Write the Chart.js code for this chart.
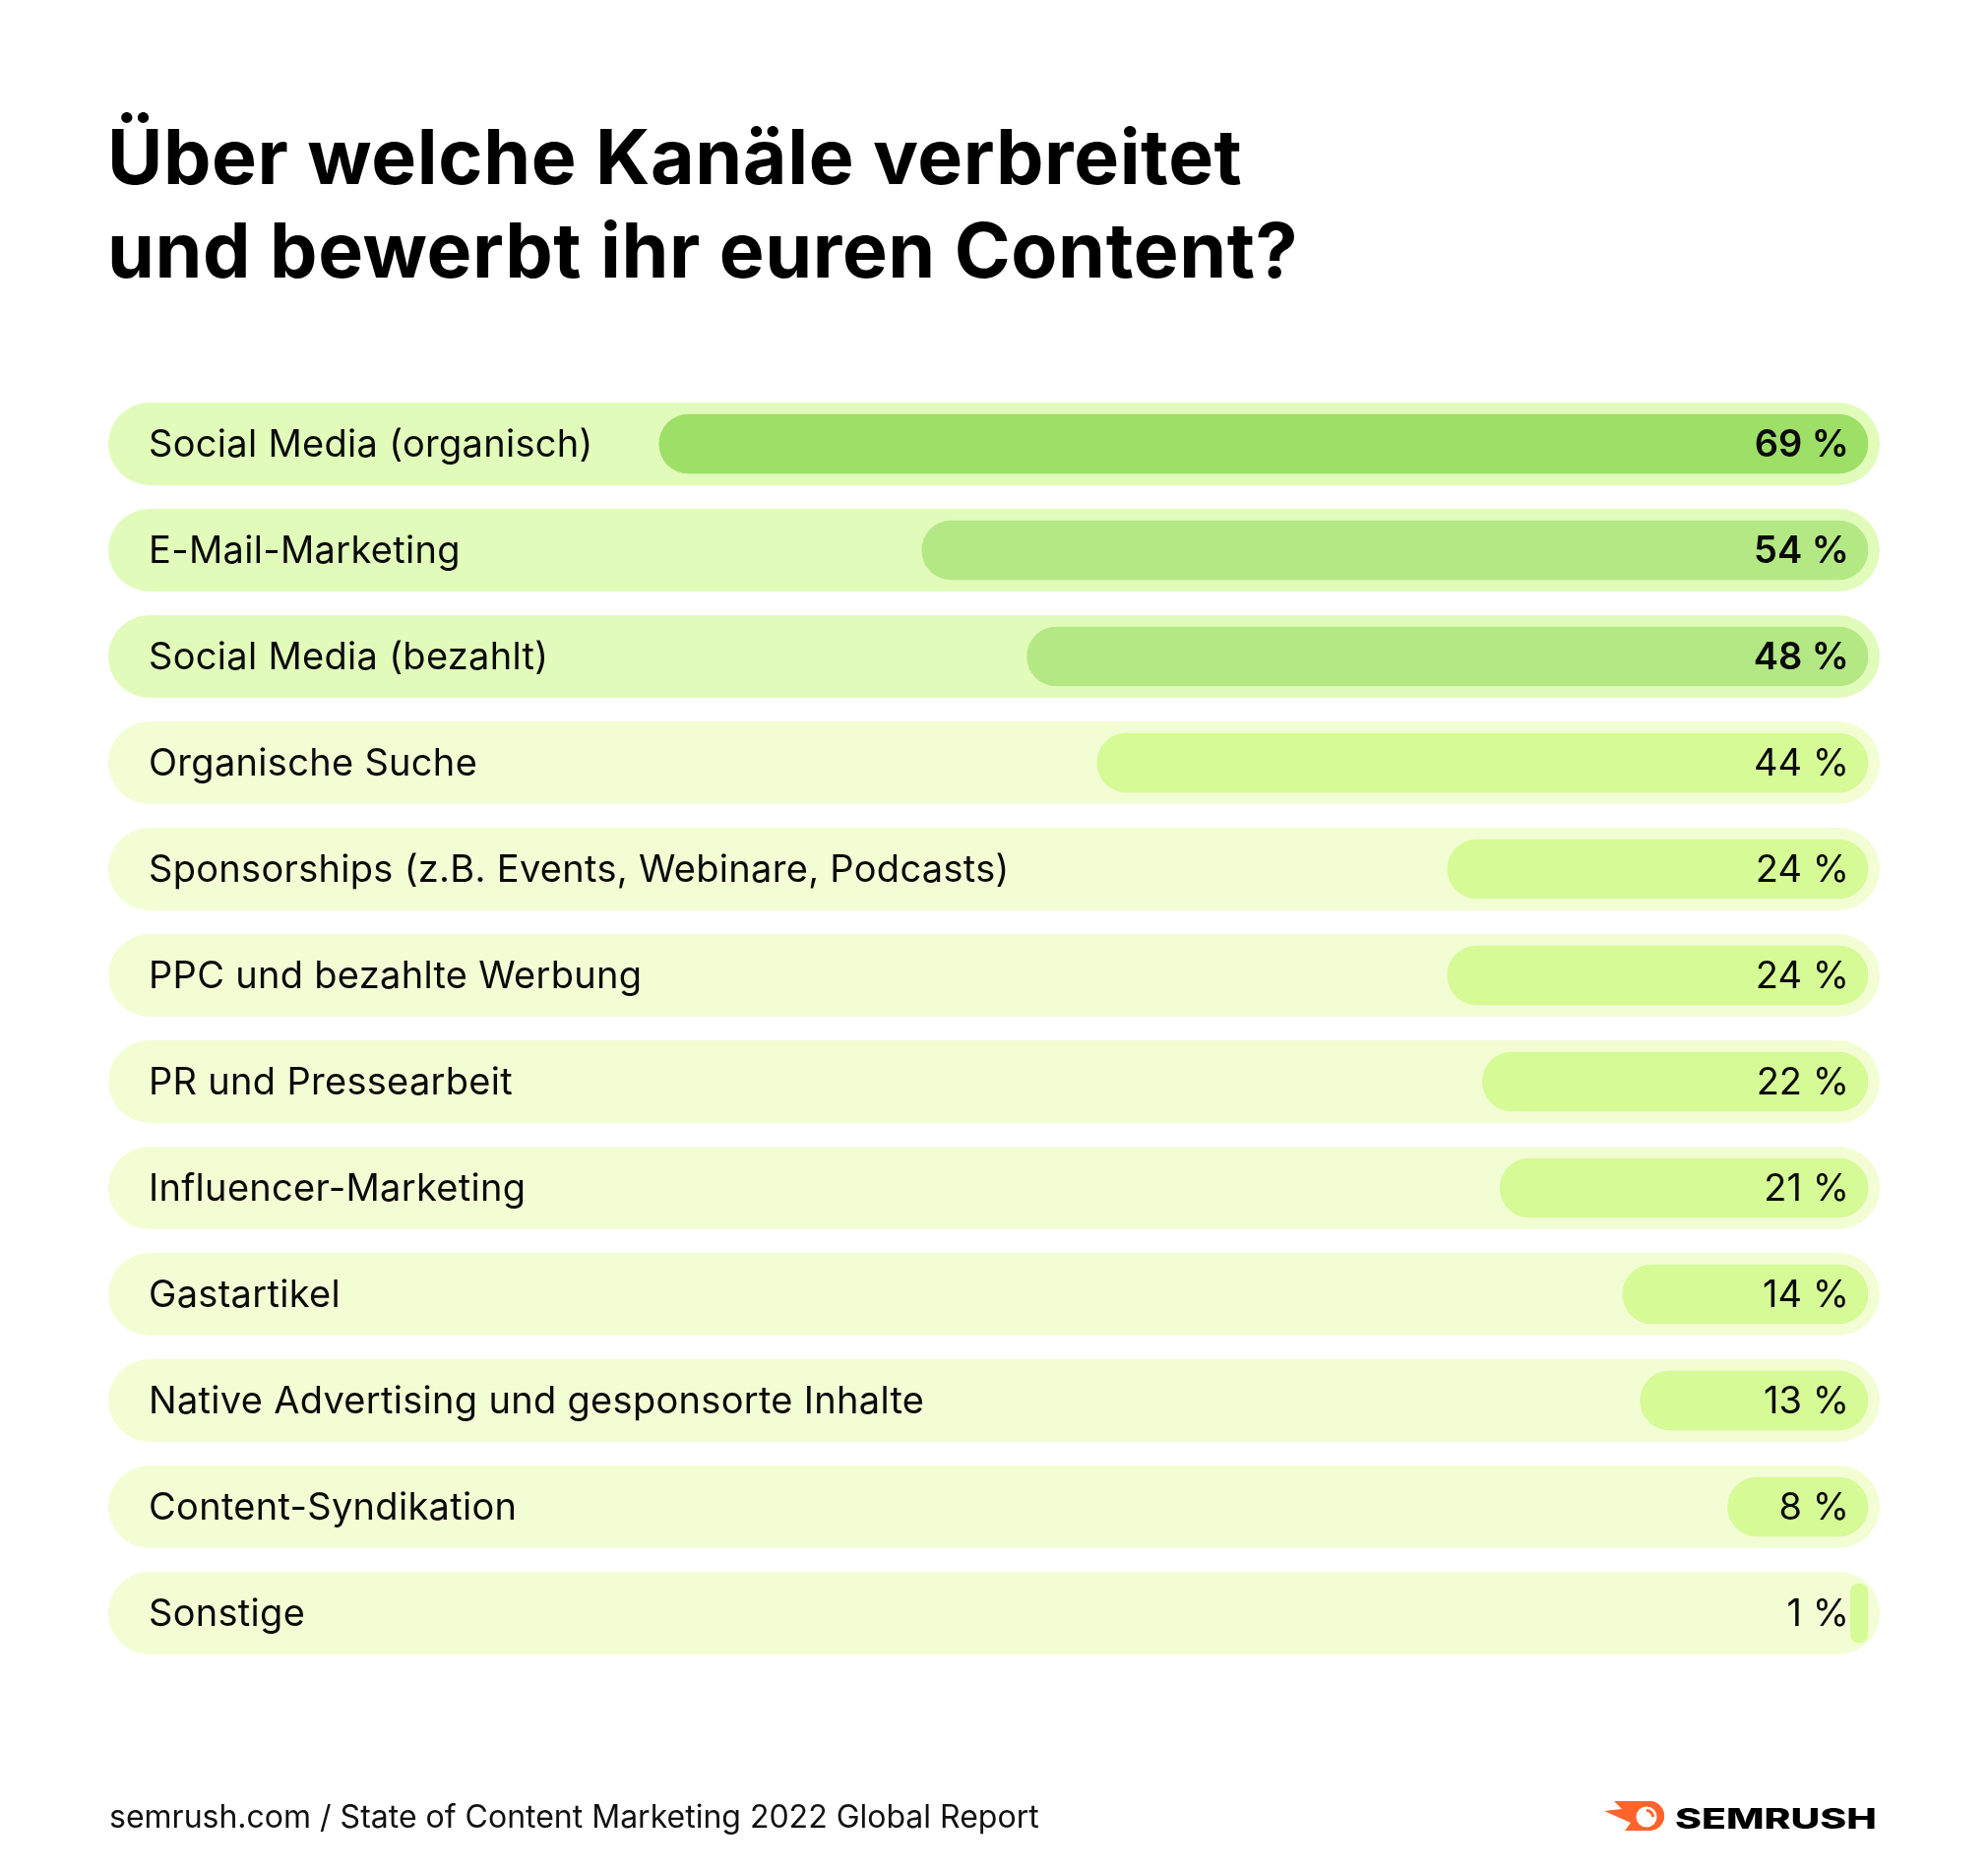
<!DOCTYPE html>
<html lang="de">
<head>
<meta charset="utf-8">
<title>Über welche Kanäle verbreitet und bewerbt ihr euren Content?</title>
<script src="https://cdn.jsdelivr.net/npm/chart.js@4.4.1/dist/chart.umd.min.js"></script>
<style>
  html, body { margin: 0; padding: 0; background: #ffffff; }
  body { width: 2020px; height: 1902px; position: relative; overflow: hidden; font-family: Inter, "Noto Sans", sans-serif; }
  #title { position: absolute; left: 109px; top: 112px; margin: 0; font-weight: 700; font-size: 77px; line-height: 95px; color: #000; letter-spacing: 0.6px; white-space: nowrap; }
  #chartWrap { position: absolute; left: 0; top: 0; width: 2020px; height: 1902px; }
  #footer { position: absolute; left: 111px; top: 1826px; font-size: 32px; line-height: 39px; color: #111; white-space: nowrap; }
  #logo { position: absolute; left: 1626px; top: 1826px; }
</style>
</head>
<body>
<h1 id="title">Über welche Kanäle verbreitet<br>und bewerbt ihr euren Content?</h1>
<div id="chartWrap"><canvas id="chart" width="2020" height="1902"></canvas></div>
<div id="footer">semrush.com / State of Content Marketing 2022 Global Report</div>
<svg id="logo" width="290" height="44" viewBox="0 0 290 44" xmlns="http://www.w3.org/2000/svg">
  <path d="M14 4 L50 4 A15 15 0 0 1 50 34 L25 34 L31 26 L4 14 L22 12 Z" fill="#ff642d"/>
  <circle cx="50" cy="19" r="15" fill="#ff642d"/>
  <circle cx="47" cy="20" r="10.5" fill="#ffffff"/>
  <path d="M47 12 A8 8 0 0 1 55 20 L52 20 A5 5 0 0 0 47 15 Z" fill="#ff642d"/>
  <text x="76" y="32" font-family="Inter, sans-serif" font-weight="800" font-size="28" textLength="205" lengthAdjust="spacingAndGlyphs" fill="#000">SEMRUSH</text>
</svg>
<script>
// ---- data ----
const categories = [
  "Social Media (organisch)",
  "E-Mail-Marketing",
  "Social Media (bezahlt)",
  "Organische Suche",
  "Sponsorships (z.B. Events, Webinare, Podcasts)",
  "PPC und bezahlte Werbung",
  "PR und Pressearbeit",
  "Influencer-Marketing",
  "Gastartikel",
  "Native Advertising und gesponsorte Inhalte",
  "Content-Syndikation",
  "Sonstige"
];
const values = [69, 54, 48, 44, 24, 24, 22, 21, 14, 13, 8, 1];
const valueLabels = values.map(v => v + " %");
const axisRange = [0, 100];

// ---- styles ----
const barColors = ["#9edf67", "#b4e884", "#b4e884", "#d6fa96", "#d6fa96", "#d6fa96", "#d6fa96", "#d6fa96", "#d6fa96", "#d6fa96", "#d6fa96", "#d6fa96"];
const trackColors = ["#e1fbba", "#e1fbba", "#e1fbba", "#f3fdd4", "#f3fdd4", "#f3fdd4", "#f3fdd4", "#f3fdd4", "#f3fdd4", "#f3fdd4", "#f3fdd4", "#f3fdd4"];
const boldValue = [true, true, true, false, false, false, false, false, false, false, false, false];

const rowPlugin = {
  id: 'rows',
  beforeDatasetsDraw(chart) {
    const { ctx, scales: { x, y } } = chart;
    const left = x.getPixelForValue(axisRange[1]) - 8;
    const right = x.getPixelForValue(axisRange[0]) + 12;
    ctx.save();
    categories.forEach((c, i) => {
      const cy = y.getPixelForValue(i);
      ctx.fillStyle = trackColors[i];
      ctx.beginPath();
      ctx.roundRect(left, cy - 42, right - left, 84, 42);
      ctx.fill();
    });
    ctx.restore();
  },
  afterDatasetsDraw(chart) {
    const { ctx, scales: { x, y } } = chart;
    const labelX = x.getPixelForValue(axisRange[1]) + 33;
    const valueX = x.getPixelForValue(axisRange[0]) - 19;
    ctx.save();
    ctx.fillStyle = "#0a0a0a";
    ctx.textBaseline = "alphabetic";
    categories.forEach((c, i) => {
      const cy = y.getPixelForValue(i);
      ctx.font = "400 38px Inter";
      ctx.letterSpacing = "0.3px";
      ctx.textAlign = "left";
      ctx.fillText(c, labelX, cy + 13);
      ctx.font = (boldValue[i] ? "600" : "400") + " 38px Inter";
      ctx.letterSpacing = "0px";
      ctx.textAlign = "right";
      ctx.fillText(valueLabels[i], valueX, cy + 13);
    });
    ctx.restore();
  }
};

function draw() {
  new Chart(document.getElementById('chart'), {
    type: 'bar',
    data: {
      labels: categories,
      datasets: [{
        data: values,
        backgroundColor: barColors,
        borderRadius: 30,
        borderSkipped: false,
        barThickness: 60
      }]
    },
    options: {
      indexAxis: 'y',
      responsive: false,
      animation: false,
      layout: { padding: { left: 118, right: 122, top: 397, bottom: 209 } },
      plugins: { legend: { display: false }, tooltip: { enabled: false }, title: { display: false } },
      scales: {
        x: { min: axisRange[0], max: axisRange[1], reverse: true, display: false },
        y: { display: false, offset: true }
      }
    },
    plugins: [rowPlugin]
  });
}
if (document.fonts && document.fonts.load) {
  Promise.all([document.fonts.load('400 38px Inter'), document.fonts.load('600 38px Inter')]).then(draw, draw);
} else { draw(); }
</script>
</body>
</html>
